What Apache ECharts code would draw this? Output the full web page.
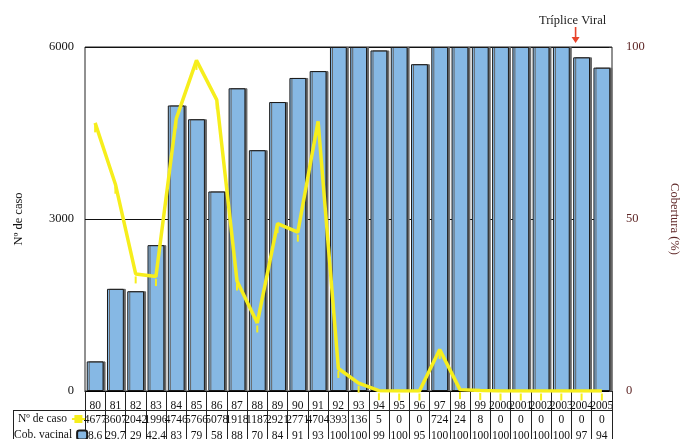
<!DOCTYPE html>
<html><head><meta charset="utf-8">
<script src="https://cdn.jsdelivr.net/npm/echarts@6/dist/echarts.min.js"></script>
<style>html,body{margin:0;padding:0;background:#fff}#c{width:680px;height:439px}</style>
</head><body><div id="c"></div>
<script>
var years = ['80','81','82','83','84','85','86','87','88','89','90','91','92','93','94','95','96','97','98','99','2000','2001','2002','2003','2004','2005'];
var casos = [4677,3607,2042,1996,4746,5766,5078,1918,1187,2921,2771,4704,393,136,5,0,0,724,24,8,0,0,0,0,0,0];
var cobertura = [8.6,29.7,29,42.4,83,79,58,88,70,84,91,93,100,100,99,100,95,100,100,100,100,100,100,100,97,94];
var leftTicks = [0,3000,6000];
var rightTicks = [0,50,100];
var serif = '"Liberation Serif","DejaVu Serif",serif';
var chart = echarts.init(document.getElementById('c'));
var legText = {fontFamily:serif,fontSize:11.5,color:'#111'};
chart.setOption({
  animation:false,
  textStyle:{fontFamily:serif},
  grid:{left:85,right:68,top:47,bottom:48,outerBoundsMode:'none',containLabel:false,show:true,borderColor:'#222',borderWidth:1,backgroundColor:'transparent'},
  legend:[
    {left:18,top:413,align:'right',itemWidth:13,itemHeight:10,padding:0,textStyle:legText,data:[{name:'Nº de caso'}]},
    {left:14,top:429,align:'right',itemWidth:10,itemHeight:9,padding:0,textStyle:legText,data:[{name:'Cob. vacinal'}]}
  ],
  xAxis:[
    {type:'category',data:years,position:'bottom',boundaryGap:true,
     axisLine:{lineStyle:{color:'#000',width:1.2}},
     axisTick:{show:true,interval:0,length:48,lineStyle:{color:'#222'}},
     axisLabel:{interval:0,margin:9,fontSize:11.5,color:'#111',fontFamily:serif}},
    {type:'category',data:casos.map(String),position:'bottom',offset:0,gridIndex:0,
     axisLine:{show:false},axisTick:{show:false},
     axisLabel:{interval:0,margin:23,fontSize:11.5,color:'#111',fontFamily:serif}},
    {type:'category',data:cobertura.map(String),position:'bottom',offset:0,gridIndex:0,
     axisLine:{show:false},axisTick:{show:false},
     axisLabel:{interval:0,margin:39,fontSize:11.5,color:'#111',fontFamily:serif}}
  ],
  yAxis:[
    {type:'value',min:leftTicks[0],max:leftTicks[2],interval:3000,position:'left',
     name:'Nº de caso',nameLocation:'middle',nameGap:60,nameRotate:90,
     nameTextStyle:{fontFamily:serif,fontSize:12.5,color:'#111'},
     axisLine:{show:false},axisTick:{show:false},
     splitLine:{show:true,lineStyle:{color:'#111',width:1}},
     axisLabel:{margin:11,fontSize:12.5,color:'#111',fontFamily:serif,formatter:function(v){return String(v);}}},
    {type:'value',min:rightTicks[0],max:rightTicks[2],interval:50,position:'right',
     name:'Cobertura (%)',nameLocation:'middle',nameGap:56,nameRotate:-90,
     nameTextStyle:{fontFamily:serif,fontSize:12.5,color:'#5e2626'},
     axisLine:{show:false},axisTick:{show:true,inside:true,length:3,lineStyle:{color:'#333'}},
     splitLine:{show:false},
     axisLabel:{margin:14,fontSize:12.5,color:'#5e2626',fontFamily:serif,formatter:function(v){return String(v);}}}
  ],
  series:[
    {name:'Cob. vacinal',type:'bar',xAxisIndex:0,yAxisIndex:1,data:cobertura,barCategoryGap:'17%',
     itemStyle:{color:'#86b8e4',borderColor:'#1a1a1a',borderWidth:1,shadowColor:'#666',shadowOffsetX:2,shadowOffsetY:0,shadowBlur:0},
     markPoint:{symbol:'path://M4,0 L6,0 L6,10 L10,10 L5,16 L0,10 L4,10 Z',symbolSize:[8,16],symbolOffset:[-6,-12],
       itemStyle:{color:'#e8442c',shadowBlur:0,shadowOffsetX:0},
       label:{show:true,position:'top',distance:0,offset:[-3,0],formatter:'Tríplice Viral',color:'#222',fontFamily:serif,fontSize:12.5},
       data:[{coord:['2004',100]}]}},
    {name:'Nº de caso',type:'line',xAxisIndex:0,yAxisIndex:0,data:casos,z:5,
     lineStyle:{color:'#f6ee1c',width:3.5},itemStyle:{color:'#f6ee1c'},
     symbol:'rect',symbolSize:[2,7],symbolOffset:[0,6],showSymbol:true}
  ],
  graphic:[
    {type:'line',shape:{x1:13,y1:410.5,x2:612,y2:410.5},style:{stroke:'#222',lineWidth:1}},
    {type:'line',shape:{x1:13.5,y1:410,x2:13.5,y2:439},style:{stroke:'#222',lineWidth:1}}
  ]
});
</script></body></html>
